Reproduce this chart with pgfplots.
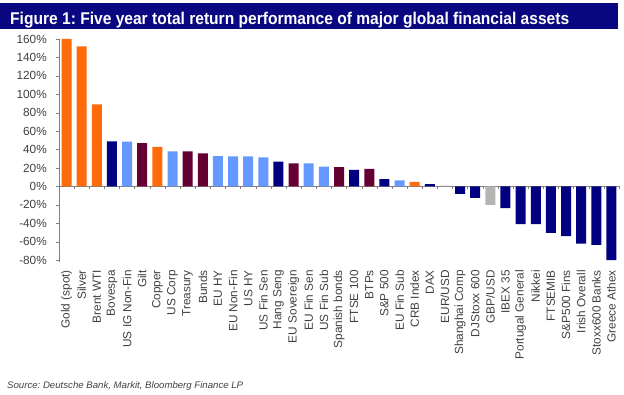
\documentclass[border=0pt]{standalone}
\usepackage{fontspec}
\setmainfont{Liberation Sans}
\usepackage{graphicx}
\usepackage{pgfplots}
\pgfplotsset{compat=1.18}
\definecolor{navyT}{HTML}{0A0880}
\definecolor{cOrange}{HTML}{FF6A0A}
\definecolor{cNavy}{HTML}{000080}
\definecolor{cLight}{HTML}{6699FF}
\definecolor{cMaroon}{HTML}{660033}
\definecolor{cGray}{HTML}{B4B4B4}
\definecolor{txt}{HTML}{404040}
\definecolor{axc}{HTML}{808080}
\frenchspacing
\begin{document}
\begin{tikzpicture}[x=1pt,y=1pt]
\useasboundingbox (0,0) rectangle (624,395);
\fill[navyT] (0,366) rectangle (618,392);
\node[anchor=base west, inner sep=0pt, text=white] at (10,370)
  {\resizebox{559pt}{\height}{\fontsize{17}{17}\selectfont\bfseries Figure 1: Five year total return performance of major global financial assets}};
\node[anchor=base west, inner sep=0pt, text=txt] at (7,6)
  {\resizebox{236pt}{\height}{\fontsize{9.5}{10}\selectfont\itshape Source: Deutsche Bank, Markit, Bloomberg Finance LP}};
\begin{axis}[
  at={(59pt,133pt)}, anchor=south west,
  scale only axis, width=560pt, height=223pt,
  xmin=-0.5, xmax=36.5, ymin=-82, ymax=160,
  clip=false,
  axis x line*=bottom, axis y line*=left,
  x axis line style={draw=none},
  y axis line style={draw=axc, -},
  xtick={0,...,36},
  xticklabels={Gold (spot),Silver,Brent WTI,Bovespa,US IG Non-Fin,Gilt,Copper,US Corp,Treasury,Bunds,EU HY,EU Non-Fin,US HY,US Fin Sen,Hang Seng,EU Sovereign,EU Fin Sen,US Fin Sub,Spanish bonds,FTSE 100,BTPs,S\&P 500,EU Fin Sub,CRB Index,DAX,EUR/USD,Shanghai Comp,DJStoxx 600,GBP/USD,IBEX 35,Portugal General,Nikkei,FTSEMIB,S\&P500 Fins,Irish Overall,Stoxx600 Banks,Greece Athex},
  major x tick style={draw=none},
  x tick label style={rotate=90, anchor=east, inner sep=0pt, font=\fontsize{11.8}{12}\selectfont, text=txt},
  xticklabel shift=5pt,
  ytick={-80,-60,...,160},
  yticklabel={\pgfmathprintnumber{\tick}\%},
  /pgf/number format/assume math mode=true,
  y tick label style={anchor=east, inner sep=0pt, font=\fontsize{11.8}{12}\selectfont, text=txt},
  yticklabel shift=9pt,
  tick align=outside,
  major y tick style={draw=axc},
  major tick length=3pt,
]
\draw[axc] (axis cs:-0.5,0) -- (axis cs:36.5,0);
\pgfplotsinvokeforeach{0.5,1.5,2.5,3.5,4.5,5.5,6.5,7.5,8.5,9.5,10.5,11.5,12.5,13.5,14.5,15.5,16.5,17.5,18.5,19.5,20.5,21.5,22.5,23.5,24.5,25.5,26.5,27.5,28.5,29.5,30.5,31.5,32.5,33.5,34.5,35.5,36.5}{\draw[axc] (axis cs:#1,0) -- ([yshift=-3pt]axis cs:#1,0);}
\addplot[ybar, bar width=10pt, bar shift=0pt, fill=cOrange, draw=none] coordinates {(0,160) (1,152) (2,89) (6,43) (23,5)};
\addplot[ybar, bar width=10pt, bar shift=0pt, fill=cNavy, draw=none] coordinates {(3,49) (14,27) (19,18) (21,8) (24,2.5) (26,-8) (27,-12.5) (29,-23.5) (30,-41) (31,-41) (32,-50.5) (33,-54) (34,-62) (35,-63.5) (36,-80)};
\addplot[ybar, bar width=10pt, bar shift=0pt, fill=cLight, draw=none] coordinates {(4,48.5) (7,38) (10,33) (11,32.5) (12,32.5) (13,31.5) (16,25) (17,21.5) (22,6.5)};
\addplot[ybar, bar width=10pt, bar shift=0pt, fill=cMaroon, draw=none] coordinates {(5,47) (8,38) (9,36) (15,25) (18,21) (20,19)};
\addplot[ybar, bar width=10pt, bar shift=0pt, fill=cGray, draw=none] coordinates {(25,1) (28,-20)};
\end{axis}
\end{tikzpicture}
\end{document}
